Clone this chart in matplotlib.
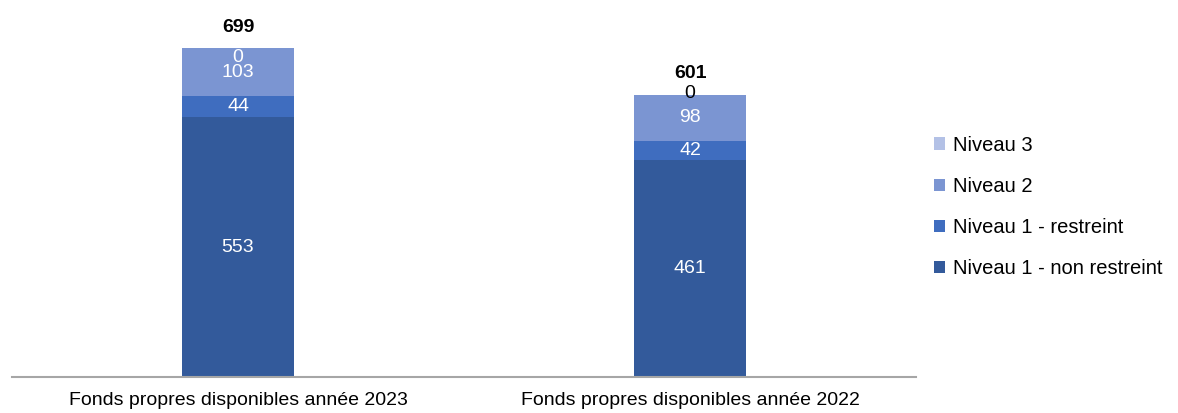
import matplotlib.pyplot as plt

categories = ["Fonds propres disponibles année 2023", "Fonds propres disponibles année 2022"]
series = ["Niveau 1 - non restreint", "Niveau 1 - restreint", "Niveau 2", "Niveau 3"]
niveau1_nr = [553, 461]
niveau1_r = [44, 42]
niveau2 = [103, 98]
niveau3 = [0, 0]
totals = [699, 601]

colors = ["#335A9B", "#3F6DBF", "#7B95D2", "#B3C1E6"]

plt.rcParams['font.family'] = ['Liberation Sans', 'DejaVu Sans']

fig = plt.figure(figsize=(11.78, 4.13), dpi=100)
ax = fig.add_axes([0.0102, 0.087, 0.7674, 0.913])

x = list(range(len(categories)))
width = 0.248
bottoms = [0, 0]
values = [niveau1_nr, niveau1_r, niveau2, niveau3]
for name, vals, col in zip(series, values, colors):
    ax.bar(x, vals, width, bottom=bottoms, color=col, label=name)
    for i, v in enumerate(vals):
        if v > 0:
            ax.text(x[i], bottoms[i] + v / 2, str(v), ha="center", va="center",
                    color="white", fontsize=14)
    bottoms = [b + v for b, v in zip(bottoms, vals)]

# zero labels for Niveau 3
ax.text(x[0], bottoms[0] - 20, "0", ha="center", va="center", color="white", fontsize=14)
ax.text(x[1], bottoms[1] + 2, "0", ha="center", va="center", color="black", fontsize=14)

for i, t in enumerate(totals):
    ax.text(x[i], t + 45, str(t), ha="center", va="center", color="black",
            fontsize=14, fontweight="bold")

ax.set_xlim(-0.5, 1.5)
ax.set_ylim(0, 802)
ax.set_xticks(x)
ax.set_xticklabels(categories, fontsize=14)
ax.tick_params(axis="x", length=0, pad=11)
ax.set_yticks([])
for s in ["top", "right", "left"]:
    ax.spines[s].set_visible(False)
ax.spines["bottom"].set_color("#A6A6A6")
ax.spines["bottom"].set_linewidth(1.5)

handles, labels = ax.get_legend_handles_labels()
fig.legend(handles[::-1], labels[::-1], loc="center left", bbox_to_anchor=(0.781, 0.499),
           frameon=False, fontsize=14.5, handlelength=0.55, handleheight=0.55,
           labelspacing=1.1, handletextpad=0.4, borderaxespad=0.3)

fig.savefig("out.png")
